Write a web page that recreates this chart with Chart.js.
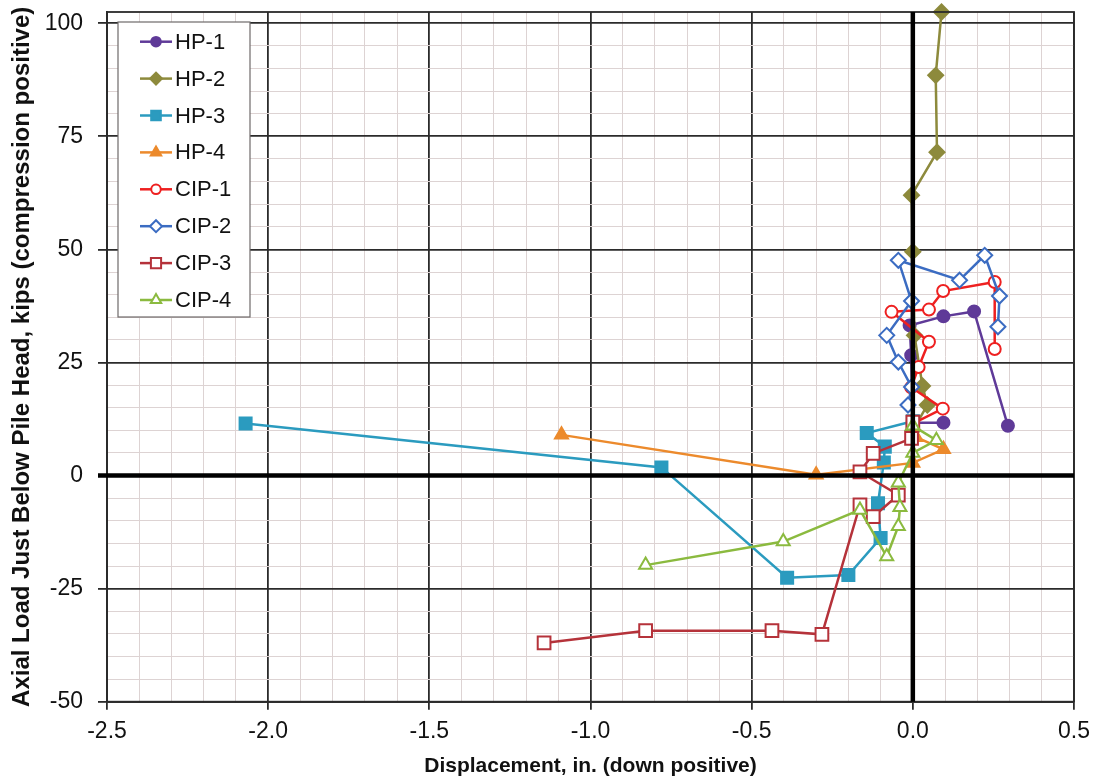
<!DOCTYPE html>
<html>
<head>
<meta charset="utf-8">
<title>Axial load vs displacement</title>
<script src="https://cdn.jsdelivr.net/npm/chart.js@4.4.1/dist/chart.umd.min.js"></script>
<style>
  html, body { margin: 0; padding: 0; background: #ffffff; }
  #wrap { width: 1094px; height: 780px; }
</style>
</head>
<body>
<div id="wrap"><canvas id="c" width="1094" height="780"></canvas></div>
<script>
// ---- Data: displacement (in., down positive) and axial load (kips, compression positive)
const seriesNames = ['HP-1', 'HP-2', 'HP-3', 'HP-4', 'CIP-1', 'CIP-2', 'CIP-3', 'CIP-4'];

const hp1X = [0.095, 0.0, -0.005, -0.01, 0.095, 0.19, 0.295];
const hp1Y = [11.7, 11.7, 26.6, 33.2, 35.2, 36.3, 11.0];

const hp2X = [0.0, 0.045, 0.03, 0.005, 0.0, -0.004, 0.075, 0.071, 0.089];
const hp2Y = [10.0, 15.6, 19.8, 31.0, 49.5, 62.0, 71.5, 88.5, 102.5];

const hp3X = [-2.07, -0.78, -0.39, -0.2, -0.1, -0.108, -0.09, -0.087, -0.143, 0.0];
const hp3Y = [11.5, 1.8, -22.6, -22.0, -13.8, -6.1, 2.9, 6.4, 9.4, 12.0];

const hp4X = [-1.09, -0.30, 0.0, 0.095, 0.01];
const hp4Y = [9.0, 0.2, 2.8, 5.8, 8.5];

const cip1X = [0.0, 0.093, -0.005, 0.018, 0.05, -0.066, 0.05, 0.094, 0.254, 0.254];
const cip1Y = [11.5, 14.8, 19.5, 24.0, 29.6, 36.2, 36.7, 40.8, 42.8, 28.0];

const cip2X = [-0.015, -0.004, -0.045, -0.081, -0.004, -0.045, 0.145, 0.223, 0.269, 0.264];
const cip2Y = [15.6, 19.6, 25.1, 31.0, 38.6, 47.6, 43.2, 48.7, 39.7, 32.9];

const cip3X = [-1.144, -0.829, -0.437, -0.282, -0.164, -0.123, -0.045, -0.164, -0.123, -0.004, 0.0];
const cip3Y = [-37.0, -34.3, -34.3, -35.1, -6.5, -9.1, -4.3, 0.8, 4.9, 8.2, 11.8];

const cip4X = [-0.829, -0.402, -0.164, -0.081, -0.045, -0.04, -0.045, 0.0, 0.073, 0.0];
const cip4Y = [-19.8, -14.6, -7.6, -17.9, -11.2, -7.0, -1.6, 5.0, 7.8, 11.0];

// ---- Axis ticks
const xMin = -2.5, xMax = 0.5, xMajorStep = 0.5, xMinorStep = 0.1;
const yMin = -50, yMax = 102.5, yMajorStep = 25, yMinorStep = 5;
const xTickLabels = ['-2.5', '-2.0', '-1.5', '-1.0', '-0.5', '0.0', '0.5'];
const yTickLabels = ['-50', '-25', '0', '25', '50', '75', '100'];

// ---- Styles
const styles = [
  { color: '#5f3a98', point: 'circle',   radius: 6,   fill: true  },
  { color: '#8d8a3c', point: 'rectRot',  radius: 7.5, fill: true  },
  { color: '#2b9bbf', point: 'rect',     radius: 8.5, fill: true  },
  { color: '#ec8a2c', point: 'triangle', radius: 7.5, fill: true  },
  { color: '#ee2020', point: 'circle',   radius: 6,   fill: false },
  { color: '#3b6cc2', point: 'rectRot',  radius: 7.5, fill: false },
  { color: '#b5323a', point: 'rect',     radius: 9,   fill: false },
  { color: '#8bba3f', point: 'triangle', radius: 7.5, fill: false }
];

const xs = [hp1X, hp2X, hp3X, hp4X, cip1X, cip2X, cip3X, cip4X];
const ys = [hp1Y, hp2Y, hp3Y, hp4Y, cip1Y, cip2Y, cip3Y, cip4Y];

const datasets = seriesNames.map((name, i) => ({
  label: name,
  data: xs[i].map((x, k) => ({ x: x, y: ys[i][k] })),
  showLine: true,
  borderColor: styles[i].color,
  backgroundColor: styles[i].fill ? styles[i].color : '#ffffff',
  borderWidth: 2.5,
  pointStyle: styles[i].point,
  pointRadius: styles[i].radius,
  pointBorderWidth: 2,
  pointBorderColor: styles[i].color,
  pointBackgroundColor: styles[i].fill ? styles[i].color : '#ffffff',
  tension: 0,
  clip: false,
  order: seriesNames.length - i
}));

function isMultiple(v, step) {
  const r = v / step;
  return Math.abs(r - Math.round(r)) < 1e-6;
}

const MAJOR = '#2b2b2b';
const MINOR = '#ddd3d3';
const FONT = "'Liberation Sans', Arial, sans-serif";

function labelFor(list, v, min, step) {
  const idx = Math.round((v - min) / step);
  return list[idx] !== undefined ? list[idx] : '';
}

// Thick zero axes and the plot frame, drawn over the series
const axesOnTop = {
  id: 'axesOnTop',
  afterDatasetsDraw(chart) {
    const { ctx, chartArea: a, scales: { x, y } } = chart;
    ctx.save();
    ctx.strokeStyle = MAJOR;
    ctx.lineWidth = 1.8;
    ctx.strokeRect(a.left, a.top, a.right - a.left, a.bottom - a.top);
    ctx.strokeStyle = '#000000';
    ctx.lineWidth = 4.5;
    const x0 = x.getPixelForValue(0);
    const y0 = y.getPixelForValue(0);
    ctx.beginPath();
    ctx.moveTo(x0, a.top); ctx.lineTo(x0, a.bottom);
    ctx.moveTo(a.left - 9, y0); ctx.lineTo(a.right, y0);
    ctx.stroke();
    ctx.restore();
  }
};

// Boxed legend inside the plot area
const boxedLegend = {
  id: 'boxedLegend',
  afterDraw(chart) {
    const { ctx } = chart;
    const box = { left: 118, top: 22, width: 132, height: 295 };
    const rowTop = 41.7, rowStep = 36.9;
    ctx.save();
    ctx.fillStyle = '#ffffff';
    ctx.fillRect(box.left, box.top, box.width, box.height);
    ctx.strokeStyle = '#6e6a6a';
    ctx.lineWidth = 1.2;
    ctx.strokeRect(box.left, box.top, box.width, box.height);
    chart.data.datasets.forEach((ds, i) => {
      const yy = rowTop + i * rowStep;
      ctx.strokeStyle = ds.borderColor;
      ctx.lineWidth = 2.5;
      ctx.beginPath();
      ctx.moveTo(140, yy); ctx.lineTo(172, yy);
      ctx.stroke();
      ctx.fillStyle = ds.pointBackgroundColor;
      ctx.strokeStyle = ds.pointBorderColor;
      ctx.lineWidth = 2;
      Chart.helpers.drawPoint(ctx, {
        pointStyle: ds.pointStyle,
        radius: ds.pointRadius * 0.8,
        borderWidth: 2,
        rotation: 0
      }, 156, yy);
      ctx.fillStyle = '#111111';
      ctx.font = '22px ' + FONT;
      ctx.textAlign = 'left';
      ctx.textBaseline = 'middle';
      ctx.fillText(ds.label, 175, yy + 1);
    });
    ctx.restore();
  }
};

new Chart(document.getElementById('c'), {
  type: 'scatter',
  data: { datasets },
  options: {
    responsive: false,
    animation: false,
    devicePixelRatio: 1,
    layout: { padding: { left: 0, right: 20, top: 12, bottom: 0 } },
    plugins: { legend: { display: false }, tooltip: { enabled: false } },
    scales: {
      x: {
        type: 'linear',
        min: xMin, max: xMax,
        afterFit(scale) { scale.height = 78.3; scale.paddingLeft = 0; scale.paddingRight = 0; },
        ticks: {
          stepSize: xMinorStep,
          autoSkip: false,
          maxRotation: 0,
          padding: 8,
          color: '#111111',
          font: { family: FONT, size: 23 },
          callback(v) { return isMultiple(v, xMajorStep) ? labelFor(xTickLabels, v, xMin, xMajorStep) : ''; }
        },
        grid: {
          color: (c) => isMultiple(c.tick.value, xMajorStep) ? MAJOR : MINOR,
          lineWidth: (c) => isMultiple(c.tick.value, xMajorStep) ? 1.8 : 1,
          tickColor: (c) => isMultiple(c.tick.value, xMajorStep) ? MAJOR : 'rgba(0,0,0,0)',
          tickLength: 8
        },
        border: { color: MAJOR, width: 1.8 },
        title: {
          display: true,
          text: 'Displacement, in. (down positive)',
          color: '#111111',
          font: { family: FONT, size: 21, weight: 'bold' },
          padding: { top: 2, bottom: 1 }
        }
      },
      y: {
        type: 'linear',
        min: yMin, max: yMax,
        afterFit(scale) { scale.width = 107; scale.paddingTop = 0; scale.paddingBottom = 0; },
        ticks: {
          stepSize: yMinorStep,
          includeBounds: false,
          autoSkip: false,
          padding: 15,
          color: '#111111',
          font: { family: FONT, size: 23 },
          callback(v) { return isMultiple(v, yMajorStep) ? labelFor(yTickLabels, v, yMin, yMajorStep) : ''; }
        },
        grid: {
          color: (c) => isMultiple(c.tick.value, yMajorStep) ? MAJOR : MINOR,
          lineWidth: (c) => isMultiple(c.tick.value, yMajorStep) ? 1.8 : 1,
          tickColor: (c) => isMultiple(c.tick.value, yMajorStep) ? MAJOR : 'rgba(0,0,0,0)',
          tickLength: 9
        },
        border: { color: MAJOR, width: 1.8 },
        title: {
          display: true,
          text: 'Axial Load Just Below Pile Head, kips (compression positive)',
          color: '#111111',
          font: { family: FONT, size: 24, weight: 'bold' },
          padding: { top: 8, bottom: 0 }
        }
      }
    }
  },
  plugins: [axesOnTop, boxedLegend]
});
</script>
</body>
</html>
